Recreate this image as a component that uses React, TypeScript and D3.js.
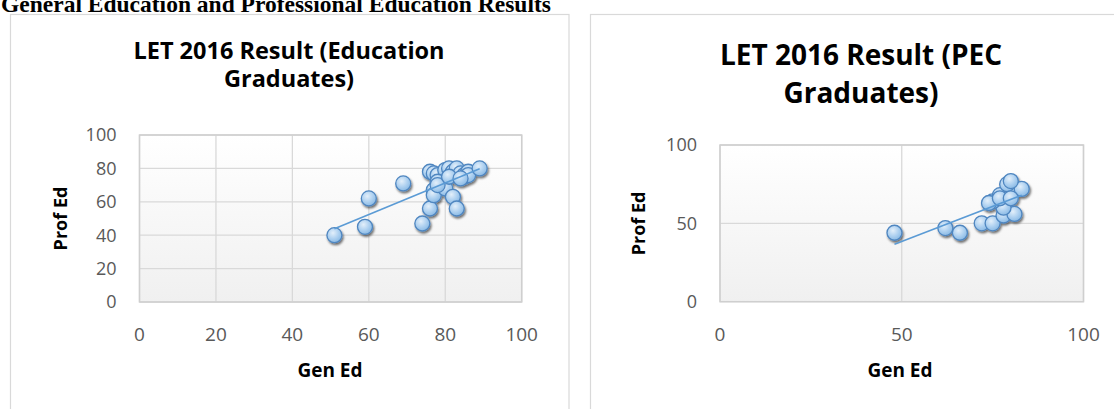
import React from "react";
import * as d3 from "d3";

const pageTitle = "General Education and Professional Education Results";
const leftTitle = ["LET 2016 Result (Education", "Graduates)"];
const rightTitle = ["LET 2016 Result (PEC", "Graduates)"];
const xAxisTitle = "Gen Ed";
const yAxisTitle = "Prof Ed";

const leftGenEd = [51, 59, 60, 69, 74, 76, 76, 77, 78, 80, 81, 82, 83, 84, 85, 85, 86, 86, 89, 78, 77, 77, 80, 78, 82, 83, 81, 84];
const leftProfEd = [40, 45, 62, 71, 47, 56, 78, 77, 76, 79, 80, 78, 80, 77, 75, 76, 78, 76, 80, 72, 67, 64, 68, 70, 63, 56, 75, 74];

const rightGenEd = [48, 62, 66, 72, 75, 78, 81, 78, 75, 74, 77, 80, 83, 79, 80, 77, 80];
const rightProfEd = [44, 47, 44, 50, 50, 55, 56, 60, 64, 63, 68, 68, 72, 75, 77, 66, 66];

const leftXTicks = [0, 20, 40, 60, 80, 100];
const leftYTicks = [0, 20, 40, 60, 80, 100];
const rightXTicks = [0, 50, 100];
const rightYTicks = [0, 50, 100];

const FONT = "'Open Sans', 'DejaVu Sans', sans-serif";

function regression(xs: number[], ys: number[]) {
  const mx = d3.mean(xs)!;
  const my = d3.mean(ys)!;
  let num = 0, den = 0;
  xs.forEach((x, i) => {
    num += (x - mx) * (ys[i] - my);
    den += (x - mx) * (x - mx);
  });
  const slope = num / den;
  return { slope, intercept: my - slope * mx };
}

type ChartProps = {
  id: string;
  box: { x: number; y: number; w: number; h: number };
  plot: { x0: number; x1: number; y0: number; y1: number };
  xTicks: number[];
  yTicks: number[];
  xs: number[];
  ys: number[];
  title: string[];
  titleSize: number;
  titleX: number;
  titleY: [number, number];
  yTitleX: number;
  xTitleX: number;
};

function Chart(p: ChartProps) {
  const x = d3.scaleLinear().domain([0, 100]).range([p.plot.x0, p.plot.x1]);
  const y = d3.scaleLinear().domain([0, 100]).range([p.plot.y1, p.plot.y0]);
  const { slope, intercept } = regression(p.xs, p.ys);
  const [xmin, xmax] = d3.extent(p.xs) as [number, number];
  const line = d3.line<number>().x((d) => x(d)).y((d) => y(slope * d + intercept));
  const pts = p.xs.map((v, i) => ({ gx: v, py: p.ys[i] }));
  return (
    <g>
      <defs>
        <linearGradient id={`bg-${p.id}`} x1="0" y1="0" x2="0" y2="1">
          <stop offset="0%" stopColor="#ffffff" />
          <stop offset="100%" stopColor="#f0f0f0" />
        </linearGradient>
        <radialGradient id={`mk-${p.id}`} cx="40%" cy="35%" r="70%">
          <stop offset="0%" stopColor="#e3effa" />
          <stop offset="55%" stopColor="#add0f0" />
          <stop offset="100%" stopColor="#86b7e3" />
        </radialGradient>
        <filter id={`sh-${p.id}`} x="-50%" y="-50%" width="200%" height="200%">
          <feDropShadow dx="1.2" dy="2" stdDeviation="1.3" floodColor="#000" floodOpacity="0.55" />
        </filter>
      </defs>
      <rect x={p.box.x} y={p.box.y} width={p.box.w} height={p.box.h} fill="#fff" stroke="#d9d9d9" strokeWidth={1.2} />
      {p.title.map((t, i) => (
        <text key={i} x={p.titleX} y={p.titleY[i]} textAnchor="middle" fontFamily={FONT} fontWeight="bold" fontSize={p.titleSize} fill="#000">
          {t}
        </text>
      ))}
      <rect x={p.plot.x0} y={p.plot.y0} width={p.plot.x1 - p.plot.x0} height={p.plot.y1 - p.plot.y0} fill={`url(#bg-${p.id})`} />
      {p.yTicks.map((t) => (
        <line key={`gy${t}`} x1={p.plot.x0} x2={p.plot.x1} y1={y(t)} y2={y(t)} stroke="#d9d9d9" strokeWidth={1.3} />
      ))}
      {p.xTicks.map((t) => (
        <line key={`gx${t}`} x1={x(t)} x2={x(t)} y1={p.plot.y0} y2={p.plot.y1} stroke="#d9d9d9" strokeWidth={1.3} />
      ))}
      <rect x={p.plot.x0} y={p.plot.y0} width={p.plot.x1 - p.plot.x0} height={p.plot.y1 - p.plot.y0} fill="none" stroke="#cfcfcf" strokeWidth={1.5} />
      {p.yTicks.map((t) => (
        <text key={`ly${t}`} x={p.plot.x0 - 23} y={y(t)} dy="0.35em" textAnchor="end" fontFamily={FONT} fontSize={18} fill="#595959">
          {t}
        </text>
      ))}
      {p.xTicks.map((t) => (
        <text key={`lx${t}`} x={x(t)} y={334} dy="0.35em" textAnchor="middle" fontFamily={FONT} fontSize={19} fill="#595959">
          {t}
        </text>
      ))}
      <text x={p.xTitleX} y={377} textAnchor="middle" fontFamily={FONT} fontWeight="bold" fontSize={19} fill="#000">
        {xAxisTitle}
      </text>
      <text
        transform={`translate(${p.yTitleX},${(p.plot.y0 + p.plot.y1) / 2}) rotate(-90)`}
        textAnchor="middle"
        dy="0.35em"
        fontFamily={FONT}
        fontWeight="bold"
        fontSize={18}
        fill="#000"
      >
        {yAxisTitle}
      </text>
      <g filter={`url(#sh-${p.id})`}>
        {pts.map((d, i) => (
          <circle key={i} cx={x(d.gx)} cy={y(d.py)} r={7.5} fill={`url(#mk-${p.id})`} stroke="#4f86c0" strokeWidth={1.3} />
        ))}
      </g>
      <path d={line([xmin, xmax])!} fill="none" stroke="#5b9bd5" strokeWidth={1.6} />
    </g>
  );
}

export default function App() {
  return (
    <svg
      width={1114}
      height={409}
      style={{ position: "absolute", left: 0, top: 0, background: "#fff" }}
    >
      <text x={1} y={12} fontFamily="'Liberation Serif', 'Times New Roman', serif" fontWeight="bold" fontSize={23.5} fill="#000">
        {pageTitle}
      </text>
      <Chart
        id="l"
        box={{ x: 10.5, y: 14.5, w: 558.5, h: 420 }}
        plot={{ x0: 139.5, x1: 521.7, y0: 135, y1: 302 }}
        xTicks={leftXTicks}
        yTicks={leftYTicks}
        xs={leftGenEd}
        ys={leftProfEd}
        title={leftTitle}
        titleSize={23.5}
        titleX={289}
        titleY={[59, 87]}
        yTitleX={61}
        xTitleX={330}
      />
      <Chart
        id="r"
        box={{ x: 590.5, y: 14.5, w: 540, h: 420 }}
        plot={{ x0: 720, x1: 1083.5, y0: 145, y1: 301.7 }}
        xTicks={rightXTicks}
        yTicks={rightYTicks}
        xs={rightGenEd}
        ys={rightProfEd}
        title={rightTitle}
        titleSize={28}
        titleX={861}
        titleY={[65, 103]}
        yTitleX={639}
        xTitleX={900}
      />
    </svg>
  );
}
